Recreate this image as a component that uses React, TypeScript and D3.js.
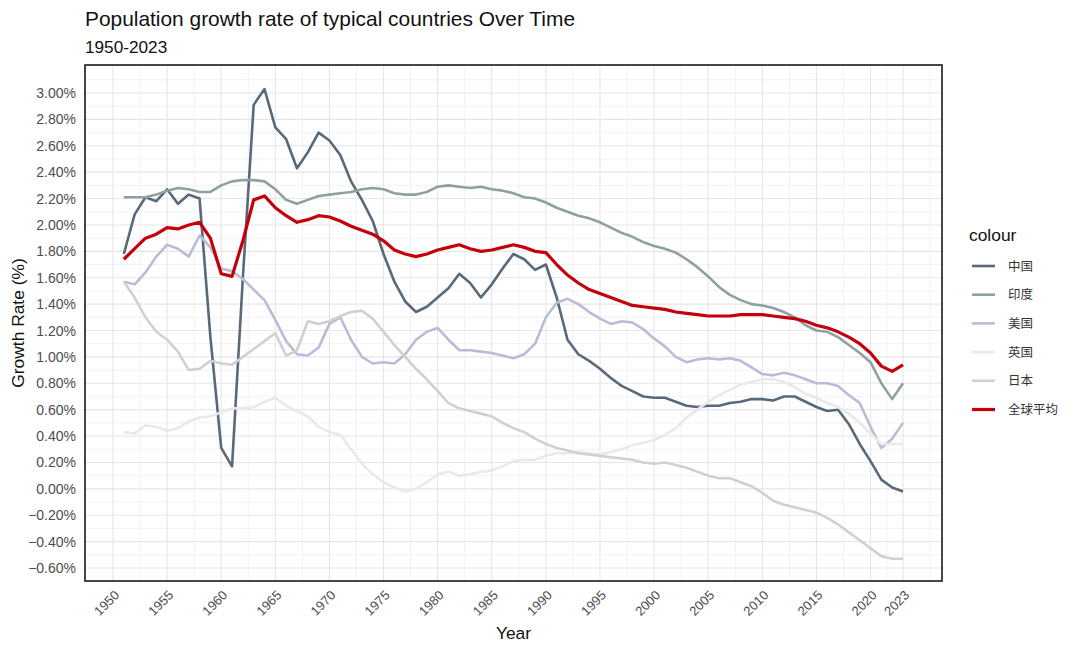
import React from "react";
import * as d3 from "d3";

const years: number[] = d3.range(1951, 2024);

const china: number[] = [
  1.78, 2.08, 2.21, 2.18, 2.27, 2.16, 2.23, 2.20, 1.15, 0.31,
  0.17, 1.60, 2.91, 3.03, 2.74, 2.65, 2.43, 2.55, 2.70, 2.64,
  2.53, 2.33, 2.19, 2.03, 1.78, 1.57, 1.42, 1.34, 1.38, 1.45,
  1.52, 1.63, 1.56, 1.45, 1.55, 1.67, 1.78, 1.74, 1.66, 1.70,
  1.45, 1.13, 1.02, 0.97, 0.91, 0.84, 0.78, 0.74, 0.70, 0.69,
  0.69, 0.66, 0.63, 0.62, 0.63, 0.63, 0.65, 0.66, 0.68, 0.68,
  0.67, 0.70, 0.70, 0.66, 0.62, 0.59, 0.60, 0.49, 0.34, 0.21,
  0.07, 0.01, -0.02,
];

const india: number[] = [
  2.21, 2.21, 2.21, 2.23, 2.26, 2.28, 2.27, 2.25, 2.25, 2.30,
  2.33, 2.34, 2.34, 2.33, 2.27, 2.19, 2.16, 2.19, 2.22, 2.23,
  2.24, 2.25, 2.27, 2.28, 2.27, 2.24, 2.23, 2.23, 2.25, 2.29,
  2.30, 2.29, 2.28, 2.29, 2.27, 2.26, 2.24, 2.21, 2.20, 2.17,
  2.13, 2.10, 2.07, 2.05, 2.02, 1.98, 1.94, 1.91, 1.87, 1.84,
  1.82, 1.79, 1.74, 1.68, 1.61, 1.53, 1.47, 1.43, 1.40, 1.39,
  1.37, 1.34, 1.30, 1.24, 1.20, 1.19, 1.15, 1.09, 1.03, 0.96,
  0.80, 0.68, 0.80,
];

const usa: number[] = [
  1.57, 1.55, 1.64, 1.76, 1.85, 1.82, 1.76, 1.92, 1.83, 1.67,
  1.65, 1.59, 1.51, 1.43, 1.28, 1.12, 1.02, 1.01, 1.07, 1.25,
  1.30, 1.13, 1.00, 0.95, 0.96, 0.95, 1.02, 1.13, 1.19, 1.22,
  1.13, 1.05, 1.05, 1.04, 1.03, 1.01, 0.99, 1.02, 1.10, 1.30,
  1.41, 1.44, 1.40, 1.34, 1.29, 1.25, 1.27, 1.26, 1.21, 1.14,
  1.08, 1.00, 0.96, 0.98, 0.99, 0.98, 0.99, 0.97, 0.92, 0.87,
  0.86, 0.88, 0.86, 0.83, 0.80, 0.80, 0.78, 0.71, 0.65, 0.47,
  0.31, 0.38, 0.50,
];

const uk: number[] = [
  0.43, 0.42, 0.48, 0.47, 0.44, 0.46, 0.51, 0.54, 0.55, 0.58,
  0.61, 0.61, 0.62, 0.66, 0.69, 0.63, 0.59, 0.55, 0.47, 0.43,
  0.41, 0.30, 0.19, 0.11, 0.05, 0.01, -0.02, 0.00, 0.05, 0.11,
  0.13, 0.10, 0.11, 0.13, 0.14, 0.17, 0.21, 0.22, 0.22, 0.25,
  0.27, 0.27, 0.28, 0.27, 0.26, 0.28, 0.30, 0.33, 0.35, 0.37,
  0.41, 0.46, 0.54, 0.60, 0.66, 0.71, 0.75, 0.79, 0.81, 0.83,
  0.83, 0.81, 0.77, 0.72, 0.69, 0.65, 0.62, 0.57, 0.50, 0.42,
  0.34, 0.34, 0.34,
];

const japan: number[] = [
  1.57, 1.45, 1.30, 1.19, 1.13, 1.04, 0.90, 0.91, 0.97, 0.95,
  0.94, 1.00, 1.06, 1.12, 1.18, 1.01, 1.05, 1.27, 1.25, 1.27,
  1.31, 1.34, 1.35, 1.29, 1.19, 1.09, 1.00, 0.91, 0.83, 0.74,
  0.65, 0.61, 0.59, 0.57, 0.55, 0.50, 0.46, 0.43, 0.38, 0.34,
  0.31, 0.29, 0.27, 0.26, 0.25, 0.24, 0.23, 0.22, 0.20, 0.19,
  0.20, 0.18, 0.16, 0.13, 0.10, 0.08, 0.08, 0.05, 0.02, -0.03,
  -0.09, -0.12, -0.14, -0.16, -0.18, -0.22, -0.27, -0.33, -0.39, -0.45,
  -0.51, -0.53, -0.53,
];

const world: number[] = [
  1.74, 1.82, 1.90, 1.93, 1.98, 1.97, 2.00, 2.02, 1.90, 1.63,
  1.61, 1.88, 2.19, 2.22, 2.13, 2.07, 2.02, 2.04, 2.07, 2.06,
  2.03, 1.99, 1.96, 1.93, 1.88, 1.81, 1.78, 1.76, 1.78, 1.81,
  1.83, 1.85, 1.82, 1.80, 1.81, 1.83, 1.85, 1.83, 1.80, 1.79,
  1.70, 1.62, 1.56, 1.51, 1.48, 1.45, 1.42, 1.39, 1.38, 1.37,
  1.36, 1.34, 1.33, 1.32, 1.31, 1.31, 1.31, 1.32, 1.32, 1.32,
  1.31, 1.30, 1.29, 1.27, 1.24, 1.22, 1.19, 1.15, 1.10, 1.03,
  0.93, 0.89, 0.94,
];

const seriesNames: string[] = ["中国", "印度", "美国", "英国", "日本", "全球平均"];
const seriesColors: string[] = ["#58697a", "#8fa0a0", "#b9bcd6", "#e9e9ea", "#d0d0d2", "#c4000c"];
const seriesWidths: number[] = [2.6, 2.6, 2.6, 2.6, 2.6, 3.2];
const seriesValues: number[][] = [china, india, usa, uk, japan, world];

const xTicks: number[] = [1950, 1955, 1960, 1965, 1970, 1975, 1980, 1985, 1990, 1995, 2000, 2005, 2010, 2015, 2020, 2023];
const xMinor: number[] = [1947.5, 1952.5, 1957.5, 1962.5, 1967.5, 1972.5, 1977.5, 1982.5, 1987.5, 1992.5, 1997.5, 2002.5, 2007.5, 2012.5, 2017.5, 2021.5, 2025.5];
const yTicks: number[] = d3.range(-6, 31, 2).map((v) => v / 10);
const yMinor: number[] = d3.range(-7, 32, 2).map((v) => v / 10);

const W = 1080;
const H = 651;
const panel = { left: 85, right: 942, top: 65, bottom: 581 };

export default function App() {
  const x = d3.scaleLinear().domain([1950, 2023]).range([113, 903]);
  const y = d3.scaleLinear().domain([-0.6, 3.0]).range([568, 93]);

  const line = d3
    .line<[number, number]>()
    .x((d) => x(d[0]))
    .y((d) => y(d[1]));

  const font = "'Liberation Sans', Arial, Helvetica, sans-serif";
  const cjk = "'Noto Sans CJK SC', 'Liberation Sans', sans-serif";

  return (
    <svg
      width={W}
      height={H}
      viewBox={`0 0 ${W} ${H}`}
      style={{ position: "absolute", left: 0, top: 0, background: "#fff" }}
    >
      <rect x={0} y={0} width={W} height={H} fill="#fff" />
      {/* grid */}
      <g>
        {yMinor
          .filter((v) => y(v) > panel.top && y(v) < panel.bottom)
          .map((v) => (
            <line key={"ym" + v} x1={panel.left} x2={panel.right} y1={y(v)} y2={y(v)} stroke="#f1f1f1" strokeWidth={0.9} />
          ))}
        {xMinor
          .filter((v) => x(v) > panel.left && x(v) < panel.right)
          .map((v) => (
            <line key={"xm" + v} x1={x(v)} x2={x(v)} y1={panel.top} y2={panel.bottom} stroke="#f1f1f1" strokeWidth={0.9} />
          ))}
        {yTicks.map((v) => (
          <line key={"yg" + v} x1={panel.left} x2={panel.right} y1={y(v)} y2={y(v)} stroke="#e6e6e6" strokeWidth={1.1} />
        ))}
        {xTicks.map((v) => (
          <line key={"xg" + v} x1={x(v)} x2={x(v)} y1={panel.top} y2={panel.bottom} stroke="#e6e6e6" strokeWidth={1.1} />
        ))}
      </g>
      {/* series */}
      <g fill="none" strokeLinejoin="round" strokeLinecap="butt">
        {seriesValues.map((vals, i) => (
          <path
            key={seriesNames[i]}
            d={line(years.map((yr, j) => [yr, vals[j]] as [number, number])) || ""}
            stroke={seriesColors[i]}
            strokeWidth={seriesWidths[i]}
          />
        ))}
      </g>
      {/* panel border */}
      <rect
        x={panel.left}
        y={panel.top}
        width={panel.right - panel.left}
        height={panel.bottom - panel.top}
        fill="none"
        stroke="#1a1a1a"
        strokeWidth={1.6}
      />
      {/* y axis labels */}
      <g fontFamily={font} fontSize={14} fill="#4d4d4d" textAnchor="end">
        {yTicks.map((v) => (
          <text key={"yt" + v} x={76} y={y(v)} dy="0.36em">
            {d3.format(".2f")(v) + "%"}
          </text>
        ))}
      </g>
      {/* x axis labels */}
      <g fontFamily={font} fontSize={13} fill="#4d4d4d" textAnchor="end">
        {xTicks.map((v) => (
          <text key={"xt" + v} transform={`translate(${x(v) + 7},${596}) rotate(-45)`}>
            {v}
          </text>
        ))}
      </g>
      {/* axis titles */}
      <text x={(panel.left + panel.right) / 2} y={639} fontFamily={font} fontSize={17.4} fill="#111" textAnchor="middle">
        Year
      </text>
      <text
        transform={`translate(${24},${(panel.top + panel.bottom) / 2}) rotate(-90)`}
        fontFamily={font}
        fontSize={17.4}
        fill="#111"
        textAnchor="middle"
      >
        Growth Rate (%)
      </text>
      {/* titles */}
      <text x={85} y={26} fontFamily={font} fontSize={20.9} fill="#111">
        Population growth rate of typical countries Over Time
      </text>
      <text x={85} y={53} fontFamily={font} fontSize={17.2} fill="#111">
        1950-2023
      </text>
      {/* legend */}
      <g>
        <text x={969} y={241} fontFamily={font} fontSize={17.4} fill="#111">
          colour
        </text>
        {seriesNames.map((name, i) => {
          const ly = 266 + i * 28.7;
          return (
            <g key={"lg" + name}>
              <line x1={972} x2={995} y1={ly} y2={ly} stroke={seriesColors[i]} strokeWidth={seriesWidths[i]} />
              <text x={1008} y={ly} dy="0.36em" fontFamily={cjk} fontSize={12.5} fill="#333">
                {name}
              </text>
            </g>
          );
        })}
      </g>
    </svg>
  );
}
